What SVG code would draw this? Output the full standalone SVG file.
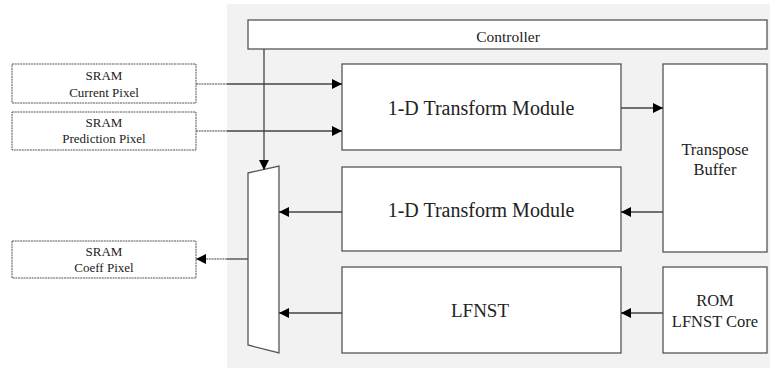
<svg xmlns="http://www.w3.org/2000/svg" width="774" height="370" viewBox="0 0 774 370">
<defs>
<marker id="ah" markerWidth="10" markerHeight="10" refX="10" refY="5" orient="auto" markerUnits="userSpaceOnUse">
<path d="M0,0 L10,5 L0,10 Z" fill="#000"/>
</marker>
<style>
.box{fill:#fff;stroke:#555;stroke-width:1.3}
.sram{fill:#fff;stroke:#555;stroke-width:1;stroke-dasharray:2 0.7}
.c{stroke:#444;stroke-width:1.3;fill:none}
.cd{stroke:#444;stroke-width:1;fill:none;stroke-dasharray:2 0.7}
text{fill:#222;text-anchor:middle}
.s{font-size:13px}
.m{font-size:16.5px}
.c15{font-size:15.5px}
.l{font-size:20px}
.l19{font-size:19px}
</style>
</defs>
<rect x="227" y="4" width="543" height="364" fill="#f2f2f2"/>
<g font-family="Liberation Serif, DejaVu Serif, serif">
<g id="controller"><rect class="box" x="248" y="20" width="519" height="29"/><text class="c15" x="508" y="42">Controller</text></g>
<g id="sram-current"><rect class="sram" x="12" y="64" width="184" height="39"/><text class="s" x="104" y="80">SRAM</text><text class="s" x="104" y="97">Current Pixel</text></g>
<g id="sram-pred"><rect class="sram" x="12" y="112" width="184" height="38"/><text class="s" x="104" y="127">SRAM</text><text class="s" x="104" y="143">Prediction Pixel</text></g>
<g id="sram-coeff"><rect class="sram" x="12" y="241" width="184" height="37"/><text class="s" x="104" y="256">SRAM</text><text class="s" x="104" y="272">Coeff Pixel</text></g>
<g id="t1"><rect class="box" x="342" y="64" width="279" height="86"/><text class="l" x="481" y="115">1-D Transform Module</text></g>
<g id="t2"><rect class="box" x="342" y="167" width="279" height="84"/><text class="l" x="481" y="217">1-D Transform Module</text></g>
<g id="lfnst"><rect class="box" x="342" y="267" width="279" height="86"/><text class="l19" x="480" y="317">LFNST</text></g>
<g id="transpose"><rect class="box" x="663" y="64" width="104" height="188"/><text class="m" x="715" y="155">Transpose</text><text class="m" x="715" y="175">Buffer</text></g>
<g id="rom"><rect class="box" x="663" y="267" width="104" height="86"/><text class="m" x="715" y="306">ROM</text><text class="m" x="715" y="327">LFNST Core</text></g>
</g>
<g id="mux"><path class="box" d="M248,173 L279,166 L279,353 L248,345 Z"/></g>
<g id="connectors">
<path class="cd" d="M196,84 H227"/><path class="c" d="M227,84 H342" marker-end="url(#ah)"/>
<path class="cd" d="M196,131 H227"/><path class="c" d="M227,131 H342" marker-end="url(#ah)"/>
<path class="c" d="M621,108 H663" marker-end="url(#ah)"/>
<path class="c" d="M663,212 H621" marker-end="url(#ah)"/>
<path class="c" d="M663,313 H621" marker-end="url(#ah)"/>
<path class="c" d="M342,212 H279" marker-end="url(#ah)"/>
<path class="c" d="M342,313 H279" marker-end="url(#ah)"/>
<path class="c" d="M264,49 V170" marker-end="url(#ah)"/>
<path class="c" d="M248,259 H227"/><path class="cd" d="M227,259 H196" marker-end="url(#ah)"/>
</g>
</svg>
